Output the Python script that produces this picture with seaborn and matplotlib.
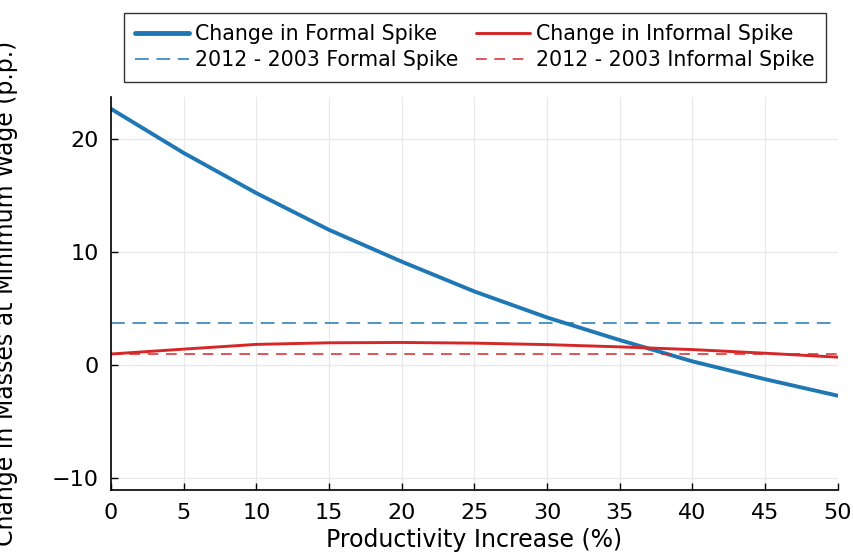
import matplotlib
matplotlib.use("Agg")
import matplotlib.pyplot as plt
import seaborn as sns
import pandas as pd

productivity = [0, 5, 10, 15, 20, 25, 30, 35, 40, 45, 50]
formal_change = [22.65, 18.75, 15.2, 11.95, 9.14, 6.5, 4.2, 2.2, 0.32, -1.26, -2.72]
informal_change = [0.97, 1.4, 1.82, 1.96, 1.99, 1.93, 1.8, 1.6, 1.36, 1.04, 0.69]
formal_2012_2003 = 3.72
informal_2012_2003 = 0.95

xticks = [0, 5, 10, 15, 20, 25, 30, 35, 40, 45, 50]
yticks = [-10, 0, 10, 20]

blue = "#1f77b4"
red = "#d62728"

sns.set_theme(style="white")
plt.rcParams["font.family"] = ["DejaVu Sans"]
plt.rcParams["text.color"] = "black"
plt.rcParams["axes.labelcolor"] = "black"

fig = plt.figure(figsize=(8.54, 5.59), dpi=100)
ax = fig.add_axes([0.130, 0.1234, 0.851, 0.7031])

df = pd.DataFrame({"x": productivity, "formal": formal_change, "informal": informal_change})

sns.lineplot(data=df, x="x", y="formal", ax=ax, color=blue, linewidth=2.8,
             label="Change in Formal Spike")
ax.axhline(formal_2012_2003, color=blue, linewidth=1.1, linestyle=(0, (9, 5)),
           label="2012 - 2003 Formal Spike")
sns.lineplot(data=df, x="x", y="informal", ax=ax, color=red, linewidth=2.1,
             label="Change in Informal Spike")
ax.axhline(informal_2012_2003, color=red, linewidth=1.1, linestyle=(0, (7, 5)),
           label="2012 - 2003 Informal Spike")

ax.set_xlim(0, 50)
ax.set_ylim(-11.06, 23.7)
ax.set_xticks(xticks)
ax.set_yticks(yticks)
ax.set_xticklabels([str(v) for v in xticks])
ax.set_yticklabels(["\u221210", "0", "10", "20"])

ax.grid(True, color="#e8e8e8", linewidth=0.9)
for s in ["top", "right"]:
    ax.spines[s].set_visible(False)
for s in ["left", "bottom"]:
    ax.spines[s].set_color("black")
    ax.spines[s].set_linewidth(1.2)
ax.tick_params(direction="in", length=5, width=1, colors="black", labelcolor="black",
               labelsize=16, left=True, bottom=True)
ax.tick_params(axis="x", pad=9)
ax.tick_params(axis="y", pad=9)

ax.set_xlabel("Productivity Increase (%)", fontsize=17, color="black")
ax.set_ylabel("Change in Masses at Minimum Wage (p.p.)", fontsize=17, color="black")
ax.xaxis.set_label_coords(0.5, -0.097)
ax.yaxis.set_label_coords(-0.128, 0.5)

handles, labels = ax.get_legend_handles_labels()
order = [labels.index(l) for l in ["Change in Formal Spike", "2012 - 2003 Formal Spike",
                                   "Change in Informal Spike", "2012 - 2003 Informal Spike"]]
leg = ax.legend([handles[i] for i in order], [labels[i] for i in order],
                ncol=2, loc="upper left", bbox_to_anchor=(0.145, 0.857, 0.822, 0.12),
                bbox_transform=fig.transFigure, mode="expand",
                fontsize=14.8, frameon=True, fancybox=False, edgecolor="black",
                handlelength=2.6, handletextpad=0.3, columnspacing=0.8,
                borderpad=0.55, labelspacing=0.3, borderaxespad=0)
leg.get_frame().set_linewidth(1.0)
for t in leg.get_texts():
    t.set_color("black")
leg.legend_handles[0].set_linewidth(3.5)

fig.savefig("out.png", dpi=100)
